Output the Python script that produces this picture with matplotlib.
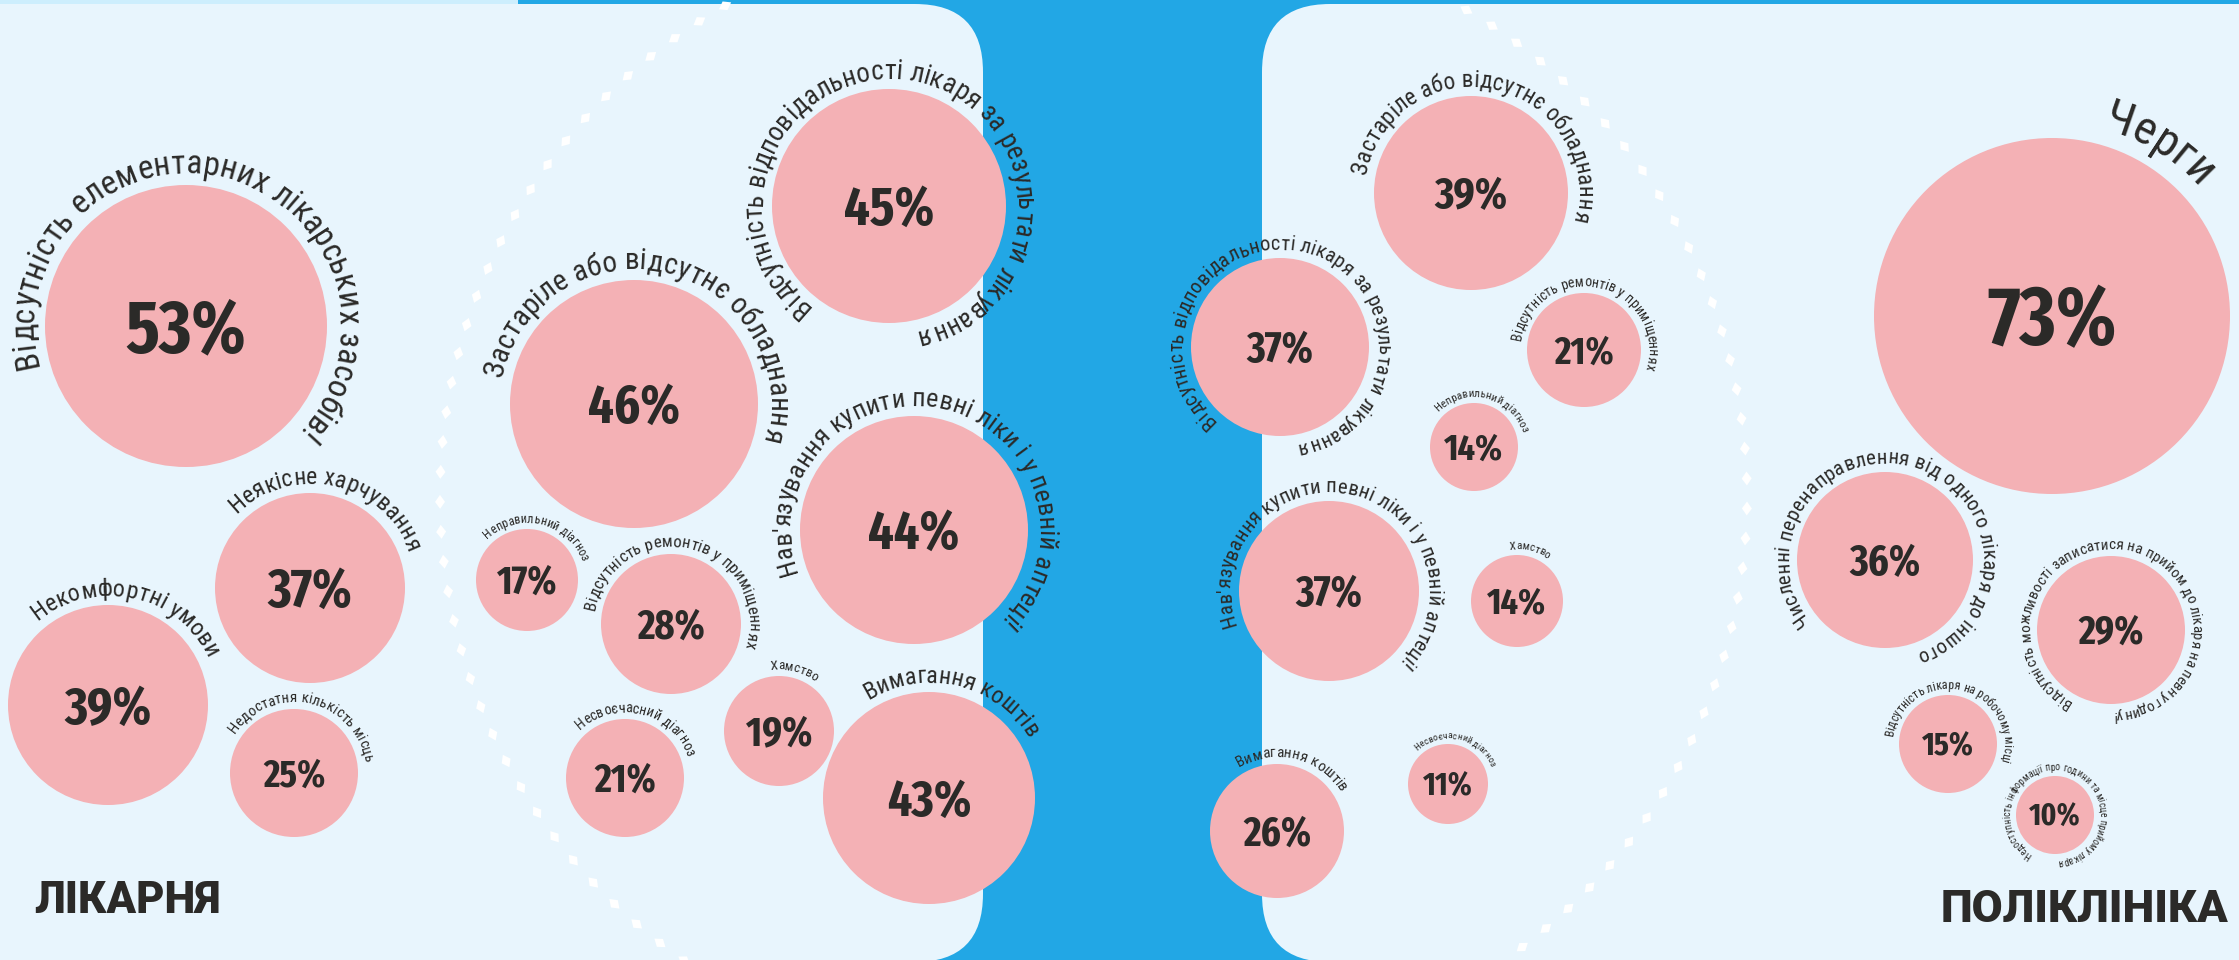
import numpy as np
import matplotlib
matplotlib.use('Agg')
import matplotlib.pyplot as plt
from matplotlib.patches import FancyBboxPatch, Rectangle, Circle, Polygon
from matplotlib.font_manager import FontProperties, findfont, get_font, fontManager

W, H, DPI = 2239, 960, 100
PX = DPI / 72.0

BLUE = '#22a7e5'
PANEL = '#e8f5fd'
STRIP = '#cdeefd'
PINK = '#f4b1b5'
INK = '#2b2a28'

# ---- data -------------------------------------------------------------
hosp_labels = [
    "Відсутність елементарних лікарських засобів!",
    "Застаріле або відсутнє обладнання",
    "Відсутність відповідальності лікаря за результати лікування",
    "Нав'язування купити певні ліки і у певній аптеці!",
    "Вимагання коштів",
    "Некомфортні умови",
    "Неякісне харчування",
    "Відсутність ремонтів у приміщеннях",
    "Недостатня кількість місць",
    "Несвоєчасний діагноз",
    "Хамство",
    "Неправильний діагноз",
]
hosp_values = [53, 46, 45, 44, 43, 39, 37, 28, 25, 21, 19, 17]

poly_labels = [
    "Черги",
    "Застаріле або відсутнє обладнання",
    "Відсутність відповідальності лікаря за результати лікування",
    "Нав'язування купити певні ліки і у певній аптеці!",
    "Численні перенаправлення від одного лікаря до іншого",
    "Відсутність можливості записатися на прийом до лікаря на певну годину!",
    "Вимагання коштів",
    "Відсутність ремонтів у приміщеннях",
    "Відсутність лікаря на робочому місці",
    "Неправильний діагноз",
    "Хамство",
    "Несвоєчасний діагноз",
    "Недоступність інформації про години та місце прийому лікаря",
]
poly_values = [73, 39, 37, 37, 36, 29, 26, 21, 15, 14, 14, 11, 10]

# ---- layout (pixels, y down) -------------------------------------------
# bubble centre, radius, label arc start/end (deg clockwise from 12 o'clock), % cap height
hosp_x = [186, 634, 889, 914, 929, 108, 310, 671, 294, 625, 779, 527]
hosp_y = [326, 404, 206, 530, 798, 705, 588, 624, 773, 778, 731, 580]
hosp_r = [141, 124, 117, 114, 106, 100, 95, 70, 64, 59, 55, 51]
hosp_a0 = [-105, -79, -142, -110, -32, -40, -45, -80, -57, -43, -8, -44]
hosp_a1 = [134, 106, 168, 137, 59, 65, 70, 107, 82, 71, 36, 71]
hosp_cap = [52, 38, 38, 38, 36, 37, 38, 29, 27, 28, 29, 28]

poly_x = [2052, 1471, 1280, 1329, 1885, 2111, 1277, 1584, 1948, 1474, 1517, 1448, 2055]
poly_y = [316, 193, 347, 591, 560, 630, 831, 350, 744, 447, 601, 784, 815]
poly_r = [178, 97, 89, 90, 88, 74, 67, 57, 49, 44, 46, 40, 39]
poly_a0 = [15, -80, -139, -110, -129, -151, -31, -82, -83, -46, -8, -43, -150]
poly_a1 = [49, 105, 170, 136, 162, 179, 59, 107, 108, 73, 36, 68, 176]
poly_cap = [58, 31, 30, 30, 30, 28, 29, 27, 23, 26, 26, 23, 22]

# ---- fonts ------------------------------------------------------------
names = {f.name for f in fontManager.ttflist}
pct_family = next(c for c in ['Saira Extra Condensed', 'Fira Sans Extra Condensed',
                              'Roboto Condensed', 'DejaVu Sans'] if c in names)
label_family = next(c for c in ['Liberation Sans Narrow', 'Roboto Condensed',
                                'PT Sans Narrow', 'Liberation Sans'] if c in names)
label_fp = FontProperties(family=label_family)
pct_fp = FontProperties(family=pct_family, weight=700)
title_fp = FontProperties(family='Roboto', weight=900)


def advances(s, fp, size=100.0):
    font = get_font(findfont(fp))
    font.set_size(size, 72)
    return np.array([font.load_char(ord(c)).linearHoriAdvance / 65536.0 for c in s]) / size


def arc_text(ax, s, cx, cy, r, a0, a1, fp, gap_k=0.26):
    adv = advances(s, fp) * PX          # px per 1pt
    span = np.radians(a1 - a0)
    fs = 10.0
    for _ in range(4):
        R = r + 3 + gap_k * fs * PX
        fs = R * span / adv.sum()
    R = r + 3 + gap_k * fs * PX
    edges = np.concatenate([[0], np.cumsum(adv * fs)])
    for i, ch in enumerate(s):
        if ch == ' ':
            continue
        mid = 0.5 * (edges[i] + edges[i + 1])
        phi = a0 + np.degrees(mid / R)
        t = np.radians(phi)
        ax.text(cx + R * np.sin(t), cy - R * np.cos(t), ch, rotation=-phi,
                rotation_mode='anchor', ha='center', va='baseline',
                fontproperties=fp, fontsize=fs, color=INK)


def bubbles(ax, labels, values, xs, ys, rs, a0s, a1s, caps):
    for lab, v, x, y, r, a0, a1, cap in zip(labels, values, xs, ys, rs, a0s, a1s, caps):
        ax.add_patch(Circle((x, y), r, facecolor=PINK, edgecolor='none', zorder=2))
        ax.text(x, y + cap / 2.0, f'{v}%', ha='center', va='baseline',
                fontproperties=pct_fp, fontsize=cap / 0.70 / PX, color=INK, zorder=3)
        arc_text(ax, lab, x, y, r, a0, a1, label_fp)


def dotted_arc(ax, cx, cy, R, t0, t1, phase):
    step = np.degrees(30.0 / R)
    for t in np.arange(t0 + phase, t1, step):
        a = np.radians(t)
        px, py = cx + R * np.cos(a), cy + R * np.sin(a)
        tx, ty = -np.sin(a), np.cos(a)
        nx, ny = np.cos(a), np.sin(a)
        pts = [(px + 7 * tx, py + 7 * ty), (px + 5 * nx, py + 5 * ny),
               (px - 7 * tx, py - 7 * ty), (px - 5 * nx, py - 5 * ny)]
        ax.add_patch(Polygon(pts, closed=True, facecolor='white', edgecolor='none', zorder=1))


fig = plt.figure(figsize=(W / DPI, H / DPI), dpi=DPI)
fig.patch.set_facecolor(BLUE)
ax = fig.add_axes([0, 0, 1, 1])
ax.set_xlim(0, W)
ax.set_ylim(H, 0)
ax.axis('off')

# panels
ax.add_patch(Rectangle((0, 0), 518, 4, facecolor=STRIP, edgecolor='none', zorder=0))
ax.add_patch(FancyBboxPatch((-200, 4), 983 + 200, 958, boxstyle='round,pad=0,rounding_size=68',
                            facecolor=PANEL, edgecolor='none', zorder=0))
ax.add_patch(FancyBboxPatch((1262, 4), W - 1262 + 200, 958, boxstyle='round,pad=0,rounding_size=68',
                            facecolor=PANEL, edgecolor='none', zorder=0))

dotted_arc(ax, 1004, 496, 564, 120, 250, 1.5)
dotted_arc(ax, 1184, 497, 563, -66, 62, 0.0)

bubbles(ax, hosp_labels, hosp_values, hosp_x, hosp_y, hosp_r, hosp_a0, hosp_a1, hosp_cap)
bubbles(ax, poly_labels, poly_values, poly_x, poly_y, poly_r, poly_a0, poly_a1, poly_cap)

ax.text(34, 913, 'ЛІКАРНЯ', ha='left', va='baseline', fontproperties=title_fp,
        fontsize=31 / 0.711 / PX, color=INK)
ax.text(2228, 922, 'ПОЛІКЛІНІКА', ha='right', va='baseline', fontproperties=title_fp,
        fontsize=32 / 0.711 / PX, color=INK)

fig.savefig('out.png', dpi=DPI, facecolor=BLUE)
